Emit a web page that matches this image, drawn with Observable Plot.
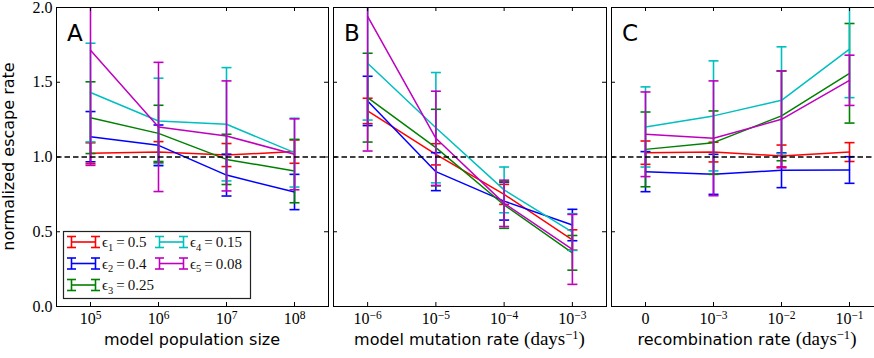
<!DOCTYPE html>
<html>
<head>
<meta charset="utf-8">
<script src="https://cdn.jsdelivr.net/npm/d3@7"></script>
<script src="https://cdn.jsdelivr.net/npm/@observablehq/plot@0.6"></script>
<style>
  html, body { margin: 0; padding: 0; background: #fff; }
  #wrap { position: relative; width: 874px; height: 358px; overflow: hidden; background: #fff; }
  .pane { position: absolute; top: 0; }
  #overlay { position: absolute; left: 0; top: 0; pointer-events: none; }
</style>
</head>
<body>
<div id="wrap"></div>
<script>
// ---------- data ----------
const seriesIds = ["1", "2", "3", "4", "5"];
const seriesEps = ["0.5", "0.4", "0.25", "0.15", "0.08"];
const seriesColors = ["#ff0000", "#0000ff", "#008000", "#00bfbf", "#bf00bf"];
const yTicks = [0, 0.5, 1.0, 1.5, 2.0];

// Panel A: model population size
const popTicks = ["10^5", "10^6", "10^7", "10^8"];
const popMean = [
  [1.025, 1.033, 1.013, 1.036],
  [1.136, 1.078, 0.879, 0.766],
  [1.263, 1.158, 0.984, 0.906],
  [1.431, 1.241, 1.219, 1.029],
  [1.714, 1.201, 1.141, 1.018]
];
const popErr = [
  [0.070, 0.070, 0.077, 0.078],
  [0.168, 0.136, 0.140, 0.118],
  [0.240, 0.188, 0.168, 0.212],
  [0.330, 0.286, 0.379, 0.230],
  [0.770, 0.432, 0.368, 0.237]
];

// Panel B: model mutation rate
const mutTicks = ["10^-6", "10^-5", "10^-4", "10^-3"];
const mutMean = [
  [1.308, 1.018, 0.750, 0.445],
  [1.375, 0.902, 0.705, 0.545],
  [1.397, 1.063, 0.679, 0.359],
  [1.627, 1.196, 0.780, 0.498],
  [1.940, 1.125, 0.690, 0.382]
];
const mutErr = [
  [0.085, 0.071, 0.067, 0.068],
  [0.165, 0.127, 0.127, 0.105],
  [0.297, 0.256, 0.156, 0.116],
  [0.380, 0.369, 0.153, 0.123],
  [0.900, 0.315, 0.155, 0.234]
];

// Panel C: recombination rate
const recTicks = ["0", "10^-3", "10^-2", "10^-1"];
const recMean = [
  [1.029, 1.033, 1.007, 1.033],
  [0.902, 0.884, 0.911, 0.913],
  [1.051, 1.096, 1.275, 1.560],
  [1.201, 1.275, 1.379, 1.721],
  [1.152, 1.125, 1.252, 1.513]
];
const recErr = [
  [0.078, 0.066, 0.073, 0.063],
  [0.134, 0.134, 0.116, 0.089],
  [0.250, 0.212, 0.300, 0.333],
  [0.268, 0.368, 0.358, 0.324],
  [0.283, 0.384, 0.324, 0.168]
];

// ---------- drawing ----------
const H = 358, MT = 7, MB = 52;
const serif = "'Liberation Serif', 'DejaVu Serif', serif";
const sans = "'DejaVu Sans', sans-serif";
const wrap = document.getElementById("wrap");

const capSymbol = { draw(ctx) { ctx.moveTo(-5, 0); ctx.lineTo(5, 0); } };

function supify(svg) {
  d3.select(svg).selectAll("text").each(function () {
    const t = this.textContent;
    const k = t.indexOf("^");
    if (k < 0) return;
    const base = t.slice(0, k), exp = t.slice(k + 1).replace("-", "\u2212");
    const sel = d3.select(this);
    sel.text(null);
    sel.append("tspan").text(base);
    sel.append("tspan").attr("dy", "-0.45em").style("font-size", "11.5px").text(exp);
  });
}

function makePanel(cfg) {
  const rows = [];
  cfg.means.forEach((arr, s) => arr.forEach((m, i) =>
    rows.push({ s, i, m, lo: m - cfg.errs[s][i], hi: m + cfg.errs[s][i] })));
  const fw = cfg.width - cfg.ml - cfg.mr;
  const fh = H - MT - MB;
  const idx = cfg.ticks.map((_, i) => i);
  const marks = [];
  seriesColors.forEach((c, s) => {
    const d = rows.filter(r => r.s === s);
    marks.push(
      Plot.line(d, { x: "i", y: "m", stroke: c, strokeWidth: 1.5, clip: true }),
      Plot.ruleX(d, { x: "i", y1: "lo", y2: "hi", stroke: c, strokeWidth: 1.6, clip: true }),
      Plot.dot(d, { x: "i", y: "lo", symbol: capSymbol, stroke: c, fill: "none", strokeWidth: 1.6, clip: true }),
      Plot.dot(d, { x: "i", y: "hi", symbol: capSymbol, stroke: c, fill: "none", strokeWidth: 1.6, clip: true })
    );
  });
  marks.push(Plot.ruleY([1], { y: d => d, stroke: "black", strokeWidth: 1.5, strokeDasharray: "5.5,3" }));
  marks.push(Plot.tickX(idx, { x: d => d, insetTop: fh - 4, stroke: "black" }));
  marks.push(Plot.tickX(idx, { x: d => d, insetBottom: fh - 4, stroke: "black" }));
  marks.push(Plot.tickY(yTicks, { y: d => d, insetRight: fw - 4, stroke: "black" }));
  marks.push(Plot.tickY(yTicks, { y: d => d, insetLeft: fw - 4, stroke: "black" }));
  marks.push(Plot.frame({ stroke: "black", strokeWidth: 1 }));
  marks.push(Plot.axisX(idx, { tickSize: 0, tickPadding: 6, tickFormat: d => cfg.ticks[d], label: null, fill: "black" }));
  if (cfg.showY) {
    marks.push(Plot.axisY(yTicks, { tickSize: 0, tickPadding: 4, tickFormat: d3.format(".1f"), label: null, fill: "black" }));
  }
  const svg = Plot.plot({
    width: cfg.width,
    height: H,
    marginTop: MT,
    marginBottom: MB,
    marginLeft: cfg.ml,
    marginRight: cfg.mr,
    x: { type: "linear", domain: [-0.5, 3.5], label: null },
    y: { type: "linear", domain: [0, 2], label: null, axis: cfg.showY ? undefined : null },
    style: { fontFamily: serif, fontSize: "16px", maxWidth: "none", background: "none", color: "black", overflow: "visible" },
    marks
  });
  supify(svg);
  const div = document.createElement("div");
  div.className = "pane";
  div.style.left = cfg.left + "px";
  div.style.width = cfg.width + "px";
  div.appendChild(svg);
  wrap.appendChild(div);
}

makePanel({ left: 0, width: 330, ml: 56, mr: 2, ticks: popTicks, means: popMean, errs: popErr, showY: true });
makePanel({ left: 330, width: 279, ml: 3, mr: 3, ticks: mutTicks, means: mutMean, errs: mutErr, showY: false });
makePanel({ left: 608, width: 278, ml: 3, mr: 3, ticks: recTicks, means: recMean, errs: recErr, showY: false });

// ---------- overlay: labels, panel letters, legend ----------
const ov = d3.create("svg").attr("id", "overlay").attr("width", 874).attr("height", 358);

ov.append("text")
  .attr("transform", "translate(14,156.5) rotate(-90)")
  .attr("text-anchor", "middle")
  .style("font-family", sans).style("font-size", "16px")
  .text("normalized escape rate");

function xLabel(cx, main, unit) {
  const t = ov.append("text").attr("x", cx).attr("y", 345).attr("text-anchor", "middle")
    .style("font-family", sans).style("font-size", "16px");
  t.append("tspan").text(main);
  if (unit) {
    t.append("tspan").style("font-family", serif).style("font-size", "19px").text("(days");
    t.append("tspan").style("font-family", serif).style("font-size", "12.5px").attr("dy", -6.5).text("\u22121");
    t.append("tspan").style("font-family", serif).style("font-size", "19px").attr("dy", 6.5).text(")");
  }
}
xLabel(192, "model population size", false);
xLabel(469.5, "model mutation rate\u00a0", true);
xLabel(747, "recombination rate\u00a0", true);

[["A", 67], ["B", 344], ["C", 622]].forEach(([L, x]) => {
  ov.append("text").attr("x", x).attr("y", 41)
    .style("font-family", sans).style("font-size", "23px").text(L);
});

// legend
const lg = ov.append("g");
lg.append("rect").attr("x", 63.5).attr("y", 231.5).attr("width", 187).attr("height", 67)
  .attr("fill", "white").attr("stroke", "#222").attr("stroke-width", 1.2);
seriesIds.forEach((id, k) => {
  const col = k < 3 ? 0 : 1, row = k < 3 ? k : k - 3;
  const x0 = col === 0 ? 67 : 155;
  const cy = 242 + row * 21.5;
  const c = seriesColors[k];
  const g = lg.append("g").attr("stroke", c).attr("stroke-width", 1.6).attr("fill", "none");
  g.append("line").attr("x1", x0 + 4.5).attr("x2", x0 + 28.5).attr("y1", cy).attr("y2", cy);
  [x0 + 4.5, x0 + 28.5].forEach(xx => {
    g.append("line").attr("x1", xx).attr("x2", xx).attr("y1", cy - 5.5).attr("y2", cy + 5.5);
    g.append("line").attr("x1", xx - 4.5).attr("x2", xx + 4.5).attr("y1", cy - 5.5).attr("y2", cy - 5.5);
    g.append("line").attr("x1", xx - 4.5).attr("x2", xx + 4.5).attr("y1", cy + 5.5).attr("y2", cy + 5.5);
  });
  const t = lg.append("text").attr("x", x0 + 35).attr("y", cy + 5)
    .style("font-family", serif).style("font-size", "15px").attr("fill", "#111");
  t.append("tspan").text("\u03f5");
  t.append("tspan").attr("dy", 3.5).style("font-size", "10.5px").text(id);
  t.append("tspan").attr("dy", -3.5).text("\u2009=\u2009" + seriesEps[k]);
});

wrap.appendChild(ov.node());
</script>
</body>
</html>
